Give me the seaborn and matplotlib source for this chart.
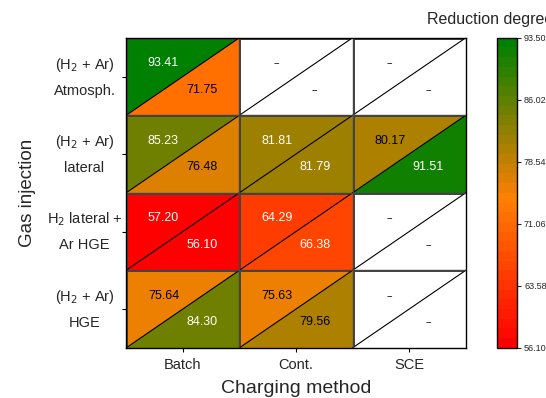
import numpy as np
import pandas as pd
import seaborn as sns
import matplotlib.pyplot as plt
from matplotlib.colors import LinearSegmentedColormap, Normalize
from matplotlib.patches import Polygon

# data
methods = ["Batch", "Cont.", "SCE"]
injections = ["(H$_2$ + Ar)\nAtmosph.", "(H$_2$ + Ar)\nlateral",
              "H$_2$ lateral +\nAr HGE", "(H$_2$ + Ar)\nHGE"]
# upper-left triangle values (rows = injections, cols = methods)
upper_vals = [[93.41, np.nan, np.nan],
              [85.23, 81.81, 80.17],
              [57.20, 64.29, np.nan],
              [75.64, 75.63, np.nan]]
# lower-right triangle values
lower_vals = [[71.75, np.nan, np.nan],
              [76.48, 81.79, 91.51],
              [56.10, 66.38, np.nan],
              [84.30, 79.56, np.nan]]
vmin, vmax = 56.10, 93.50

sns.set_theme(style="ticks")
plt.rcParams['font.family'] = ['Liberation Sans', 'DejaVu Sans']

cmap = LinearSegmentedColormap.from_list(
    "rog", [(0.0, "#ff0000"), (0.48, "#ff8000"), (1.0, "#008000")], N=32)
norm = Normalize(vmin, vmax)

fig = plt.figure(figsize=(5.46, 3.98), dpi=100)
ax = fig.add_axes([0.231, 0.126, 0.622, 0.779])
cax = fig.add_axes([0.910, 0.126, 0.037, 0.779])

df_up = pd.DataFrame(upper_vals, index=injections, columns=methods)
sns.heatmap(df_up, cmap=cmap, vmin=vmin, vmax=vmax, ax=ax, cbar_ax=cax,
            linewidths=1.0, linecolor="#444444")
ax.set_facecolor("white")


def txt_color(v):
    return "black" if 70 <= v < 81 else "white"


for i in range(len(injections)):
    for j in range(len(methods)):
        lo = lower_vals[i][j]
        up = upper_vals[i][j]
        tri = [(j, i + 1), (j + 1, i + 1), (j + 1, i)]
        fc = "white" if np.isnan(lo) else cmap(norm(lo))
        ax.add_patch(Polygon(tri, closed=True, facecolor=fc,
                             edgecolor="none", zorder=2))
        ax.plot([j, j + 1], [i + 1, i], color="black", lw=0.8, zorder=3)
        for v, pos in ((up, 0.33), (lo, 0.67)):
            if np.isnan(v):
                ax.text(j + pos, i + pos, "--", ha="center", va="center",
                        fontsize=7, color="black", zorder=4)
            else:
                ax.text(j + pos, i + pos, f"{v:.2f}", ha="center",
                        va="center", fontsize=9, color=txt_color(v), zorder=4)

# cell borders on top
for k in range(1, len(methods)):
    ax.axvline(k, color="#444444", lw=1.0, zorder=5)
for k in range(1, len(injections)):
    ax.axhline(k, color="#444444", lw=1.0, zorder=5)

for s in ax.spines.values():
    s.set_visible(True)
    s.set_color("black")
    s.set_linewidth(1.0)
    s.set_zorder(6)

ax.tick_params(axis="both", length=3, width=0.8, color="black", pad=4)
ax.set_yticklabels(injections, rotation=0, ha="center", fontsize=10.5,
                   linespacing=1.9)
ax.tick_params(axis="y", pad=27)
ax.set_xticklabels(methods, rotation=0, fontsize=10.5)
ax.set_xlabel("Charging method", fontsize=14, labelpad=6)
ax.set_ylabel("Gas injection", fontsize=13.5, labelpad=8)

ticks = np.linspace(vmin, vmax, 6)
cbar = ax.collections[0].colorbar
cbar.set_ticks(ticks)
cbar.set_ticklabels([f"{t:.2f}" for t in ticks])
cbar.ax.tick_params(labelsize=6.5, length=3, width=0.8, pad=2)
cbar.outline.set_visible(True)
cbar.outline.set_edgecolor("black")
cbar.outline.set_linewidth(1.0)

fig.text(0.782, 0.95, "Reduction degree", fontsize=11.5, ha="left",
         va="center")

fig.savefig("out.png", dpi=100)
